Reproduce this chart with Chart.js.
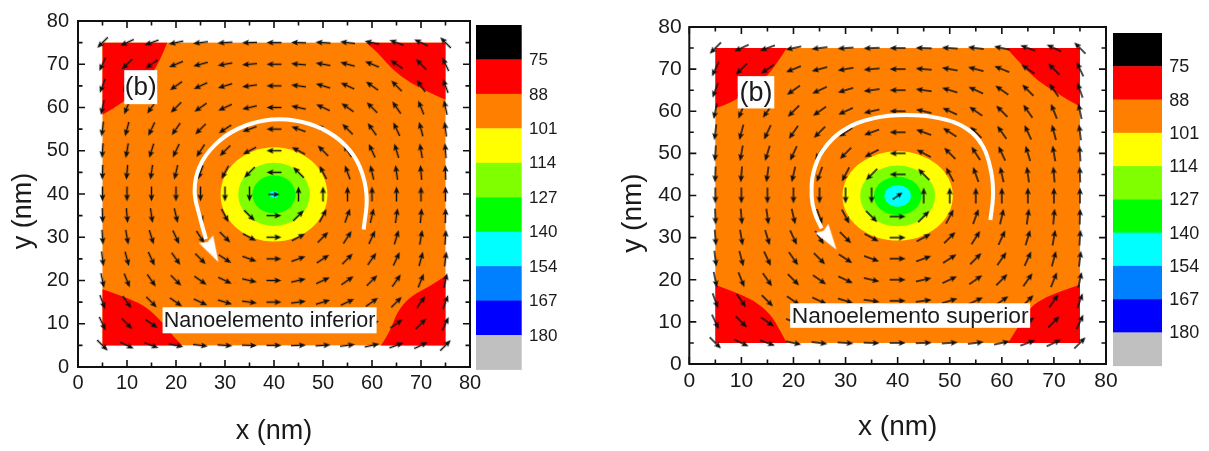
<!DOCTYPE html>
<html><head><meta charset="utf-8">
<script src="https://cdn.jsdelivr.net/npm/chart.js@4.4.1/dist/chart.umd.min.js"></script>
<style>
html,body{margin:0;padding:0;background:#fff;width:1209px;height:451px;overflow:hidden;}
.wrap{position:absolute;top:0;height:451px;}
#w1{left:0;width:604px;} #w2{left:604px;width:605px;}
canvas{display:block;}
</style></head><body>
<div class="wrap" id="w1"><canvas id="c1" width="604" height="451"></canvas></div>
<div class="wrap" id="w2"><canvas id="c2" width="605" height="451"></canvas></div>
<script>
// ---------------- data ----------------
const axisTicks = [0, 10, 20, 30, 40, 50, 60, 70, 80];
const minorTicks = [5, 15, 25, 35, 45, 55, 65, 75];
const colorLevels = ['75', '88', '101', '114', '127', '140', '154', '167', '180'];
const bandColors = ['#000000', '#ff0000', '#ff8000', '#ffff00', '#80ff00', '#00ff00', '#00ffff', '#0080ff', '#0000ff', '#c0c0c0'];
const sampleExtent = [5, 75];
const gridX = [5, 10, 15, 20, 25, 30, 35, 40, 45, 50, 55, 60, 65, 70, 75];
const gridY = [75, 70, 65, 60, 55, 50, 45, 40, 35, 30, 25, 20, 15, 10, 5];
// arrow directions (degrees, counter-clockwise from +x), rows = gridY, cols = gridX
const arrowAngles = [
  [225,205,200,192,187,184,182,180,178,176,173,168,160,155,135],
  [245,225,215,202,195,190,185,180,175,170,165,158,145,135,115],
  [250,235,225,215,205,197,188,180,172,163,155,145,135,125,110],
  [258,248,235,225,215,205,193,180,167,155,145,135,125,112,102],
  [263,255,245,235,225,213,200,180,160,147,135,125,115,105,97],
  [266,260,253,245,237,225,208,180,152,135,123,115,107,100,94],
  [268,265,262,257,250,242,225,180,135,118,110,103,98,95,92],
  [270,270,270,270,270,270,270,null,90,90,90,90,90,90,90],
  [272,275,278,283,290,298,315,0,45,62,70,77,82,85,88],
  [274,280,287,295,303,315,332,0,28,45,57,65,73,80,86],
  [277,285,295,305,315,327,340,0,20,33,45,55,65,75,83],
  [282,292,305,315,325,335,347,0,13,25,35,45,55,68,78],
  [290,305,315,325,335,343,352,0,8,17,25,35,45,55,70],
  [295,315,325,338,345,350,355,0,5,10,15,22,35,45,65],
  [315,335,340,348,353,356,358,0,2,4,7,12,20,25,45]
];
// core level bands: yellow, light green, green, cyan
const coreBands = [3, 4, 5, 6];

// Panel 1: Nanoelemento inferior
const infCenter = [40, 39.9];
const infRadii = [10.9, 7.3, 4.4, 0.85];
const infCenterAngle = 0;
const infCornerTL = [[5,75],[18.2,75],[16.3,69.5],[13,65],[9.3,61.2],[5,58.3]];
const infCornerTR = [[75,75],[58.8,75],[61.1,72.9],[63.9,69],[67.9,65.6],[72.7,62.9],[75,61.8]];
const infCornerBL = [[5,5],[5,18],[10,16.1],[14.1,13.8],[17.5,10],[19.6,6.9],[21.3,5]];
const infCornerBR = [[75,5],[61.8,5],[63.5,7.7],[65.2,13],[68,16.5],[72,18.8],[75,21.1]];
const infArc = [[58.3,31.8],[58.9,39.5],[57.5,46.3],[54.5,51.3],[49.9,55.0],[44.2,57.0],[38.1,57.0],[32.5,55.0],[27.9,51.3],[24.8,46.3],[23.8,40.7],[24.8,35.0],[26.1,29.6]];
const infArcHead = [27.4, 26.9];

// Panel 2: Nanoelemento superior
const supCenter = [40, 39.9];
const supRadii = [10.6, 7.2, 4.55, 2.55];
const supCenterAngle = 35;
const supCornerTL = [[5,75],[18.7,75],[16.1,69.8],[12.5,65.5],[8.5,62.3],[5,60.7]];
const supCornerTR = [[75,75],[60.9,75],[63.5,71.4],[66.7,67.4],[70.5,64.3],[75,61.1]];
const supCornerBL = [[5,5],[5,18.8],[8.4,17.2],[12.3,15.2],[15.5,12],[17.4,8.1],[18.7,5]];
const supCornerBR = [[75,5],[61.2,5],[62.8,8.1],[65.4,13.6],[68.6,16],[72.4,17.7],[75,18.8]];
const supArc = [[57.8,34.2],[58.3,39.7],[58.0,45.3],[56.4,51.6],[53.2,55.9],[48.1,58.3],[41.7,59.1],[35.3,58.3],[29.6,55.5],[25.7,50.8],[23.8,45.3],[23.5,39.7],[24.1,35.8],[25.4,32.2]];
const supArcHead = [26.85, 29.65];

// ---------------- drawing helpers ----------------
const FONT = '"Liberation Sans", Arial, Helvetica, sans-serif';

function makeArrow(len, head, headW, lw, color) {
  const s = Math.ceil(len) + 4;
  const c = document.createElement('canvas'); c.width = s; c.height = s;
  const g = c.getContext('2d');
  const cx = s / 2, cy = s / 2;
  g.strokeStyle = color; g.fillStyle = color; g.lineWidth = lw;
  g.beginPath(); g.moveTo(cx - len / 2, cy); g.lineTo(cx + len / 2 - head * 0.7, cy); g.stroke();
  g.beginPath(); g.moveTo(cx + len / 2, cy);
  g.lineTo(cx + len / 2 - head, cy - headW / 2);
  g.lineTo(cx + len / 2 - head * 0.8, cy);
  g.lineTo(cx + len / 2 - head, cy + headW / 2);
  g.closePath(); g.fill();
  return c;
}
function makeHead(L, W, color) {
  const s = Math.ceil(Math.max(L, W)) + 4;
  const c = document.createElement('canvas'); c.width = s; c.height = s;
  const g = c.getContext('2d');
  const cy = s / 2, x0 = (s - L) / 2;
  g.fillStyle = color;
  g.beginPath(); g.moveTo(x0 + L, cy); g.lineTo(x0, cy - W / 2); g.lineTo(x0 + L * 0.12, cy); g.lineTo(x0, cy + W / 2); g.closePath(); g.fill();
  return c;
}
function cornerPath(ctx, pts, X, Y) {
  const b = pts.slice(1).map(p => [X(p[0]), Y(p[1])]);
  ctx.beginPath();
  ctx.moveTo(X(pts[0][0]), Y(pts[0][1]));
  ctx.lineTo(b[0][0], b[0][1]);
  for (let i = 1; i < b.length - 1; i++) {
    const mx = (b[i][0] + b[i + 1][0]) / 2, my = (b[i][1] + b[i + 1][1]) / 2;
    ctx.quadraticCurveTo(b[i][0], b[i][1], mx, my);
  }
  ctx.lineTo(b[b.length - 1][0], b[b.length - 1][1]);
  ctx.closePath();
}

function buildPanel(id, d, g) {
  const arrowImg = makeArrow(g.arrowLen, 7, 6, 1.5, '#111');
  const centerImg = makeArrow(g.arrowLen * 0.75, 6, 5.5, 1.4, '#111');
  const headImg = makeHead(g.headL, g.headW, '#ffffff');
  const pts = [], rots = [];
  gridY.forEach((y, r) => gridX.forEach((x, c) => {
    const a = arrowAngles[r][c];
    if (a === null) return;
    pts.push({ x, y }); rots.push(-a);
  }));

  const contourPlugin = {
    id: 'contour' + id,
    beforeDatasetsDraw(chart) {
      const { ctx, chartArea: ca } = chart;
      const X = v => chart.scales.x.getPixelForValue(v);
      const Y = v => chart.scales.y.getPixelForValue(v);
      ctx.save();
      ctx.beginPath(); ctx.rect(ca.left, ca.top, ca.width, ca.height); ctx.clip();
      ctx.fillStyle = bandColors[2];
      ctx.fillRect(X(sampleExtent[0]), Y(sampleExtent[1]), X(sampleExtent[1]) - X(sampleExtent[0]), Y(sampleExtent[0]) - Y(sampleExtent[1]));
      ctx.fillStyle = bandColors[1];
      d.corners.forEach(c => { cornerPath(ctx, c, X, Y); ctx.fill(); });
      d.radii.forEach((r, i) => {
        ctx.fillStyle = bandColors[coreBands[i]];
        const cx = X(d.center[0]), cy = Y(d.center[1]);
        ctx.beginPath();
        ctx.ellipse(cx, cy, Math.abs(X(d.center[0] + r) - cx), Math.abs(Y(d.center[1] + r) - cy), 0, 0, Math.PI * 2);
        ctx.fill();
      });
      ctx.restore();
    },
    afterDatasetsDraw(chart) {
      const { ctx, chartArea: ca } = chart;
      const X = v => chart.scales.x.getPixelForValue(v);
      const Y = v => chart.scales.y.getPixelForValue(v);
      ctx.save();
      // frame
      ctx.strokeStyle = '#111'; ctx.lineWidth = 2;
      ctx.strokeRect(ca.left, ca.top, ca.width, ca.height);
      ctx.lineWidth = 1.6;
      const tick = (vals, len) => {
        vals.forEach(v => {
          const px = X(v), py = Y(v);
          ctx.beginPath();
          ctx.moveTo(px, ca.bottom); ctx.lineTo(px, ca.bottom - len);
          ctx.moveTo(px, ca.top); ctx.lineTo(px, ca.top + len);
          ctx.moveTo(ca.left, py); ctx.lineTo(ca.left + len, py);
          ctx.moveTo(ca.right, py); ctx.lineTo(ca.right - len, py);
          ctx.stroke();
        });
      };
      tick(axisTicks, 7);
      tick(minorTicks, 4.5);
      // labels with white boxes
      d.labels.forEach(l => {
        const cx = X(l.at[0]), cy = Y(l.at[1]);
        ctx.fillStyle = '#fff';
        ctx.fillRect(cx - l.w / 2, cy - l.h / 2, l.w, l.h);
        ctx.fillStyle = '#1a1a1a';
        ctx.font = l.size + 'px ' + FONT;
        ctx.textAlign = 'center'; ctx.textBaseline = 'middle';
        ctx.fillText(l.text, cx, cy + 1);
      });
      ctx.restore();
    },
    afterDraw(chart) {
      const { ctx } = chart;
      ctx.save();
      const bh = g.cbH / bandColors.length;
      bandColors.forEach((col, i) => {
        ctx.fillStyle = col;
        ctx.fillRect(g.cbLeft, g.cbTop + i * bh, g.cbW, bh + 0.4);
      });
      ctx.fillStyle = '#1a1a1a';
      ctx.font = g.cbFont + 'px ' + FONT;
      ctx.textAlign = 'left'; ctx.textBaseline = 'middle';
      colorLevels.forEach((t, i) => ctx.fillText(t, g.cbLabelX, g.cbTop + (i + 1) * bh + 1));
      // axis titles
      ctx.font = g.titleFont + 'px ' + FONT;
      ctx.textAlign = 'center'; ctx.textBaseline = 'middle';
      ctx.fillText('x (nm)', g.xTitle[0], g.xTitle[1]);
      ctx.translate(g.yTitle[0], g.yTitle[1]);
      ctx.rotate(-Math.PI / 2);
      ctx.fillText('y (nm)', 0, 0);
      ctx.restore();
    }
  };

  const tickFont = { family: FONT, size: g.tickFont };
  new Chart(document.getElementById(id), {
    type: 'scatter',
    data: {
      datasets: [
        { data: [{ x: d.head[0], y: d.head[1] }], pointStyle: headImg, pointRotation: g.headRot, pointRadius: 6, showLine: false },
        { data: d.arc.map(p => ({ x: p[0], y: p[1] })), showLine: true, borderColor: '#ffffff', borderWidth: 4, tension: 0.4, pointRadius: 0, fill: false, borderCapStyle: 'butt', borderJoinStyle: 'round' },
        { data: [{ x: d.center[0], y: d.center[1] }], pointStyle: centerImg, pointRotation: -d.centerAngle, pointRadius: 6, showLine: false },
        { data: pts, pointStyle: arrowImg, pointRotation: (c) => rots[c.dataIndex] || 0, pointRadius: 6, showLine: false }
      ]
    },
    options: {
      responsive: false, animation: false, events: [],
      layout: { padding: { left: 0, top: g.top, right: g.padRight, bottom: 0 } },
      plugins: { legend: { display: false }, tooltip: { enabled: false } },
      scales: {
        x: {
          type: 'linear', min: 0, max: 80,
          afterBuildTicks: s => { s.ticks = axisTicks.map(v => ({ value: v })); },
          afterFit: s => { s.height = g.xH; },
          grid: { display: false, drawTicks: false }, border: { display: false },
          ticks: { color: '#1a1a1a', font: tickFont, padding: g.xPad, maxRotation: 0, autoSkip: false }
        },
        y: {
          type: 'linear', min: 0, max: 80,
          afterBuildTicks: s => { s.ticks = axisTicks.map(v => ({ value: v })); },
          afterFit: s => { s.width = g.yW; },
          grid: { display: false, drawTicks: false }, border: { display: false },
          ticks: { color: '#1a1a1a', font: tickFont, padding: g.yPad, autoSkip: false }
        }
      }
    },
    plugins: [contourPlugin]
  });
}

buildPanel('c1', {
  center: infCenter, radii: infRadii, centerAngle: infCenterAngle,
  corners: [infCornerTL, infCornerTR, infCornerBL, infCornerBR],
  arc: infArc, head: infArcHead,
  labels: [
    { text: '(b)', at: [12.8, 64.7], w: 33, h: 34, size: 26 },
    { text: 'Nanoelemento inferior', at: [39.1, 10.8], w: 214, h: 26, size: 21.5 }
  ]
}, {
  top: 19, padRight: 134, xH: 84, yW: 78, xPad: 4.5, yPad: 9, tickFont: 20,
  arrowLen: 15, headL: 26, headW: 16, headRot: 61.6,
  cbLeft: 476, cbTop: 25, cbW: 45.7, cbH: 344.5, cbLabelX: 529, cbFont: 17,
  titleFont: 27, xTitle: [274, 432], yTitle: [24, 211]
});

buildPanel('c2', {
  center: supCenter, radii: supRadii, centerAngle: supCenterAngle,
  corners: [supCornerTL, supCornerTR, supCornerBL, supCornerBR],
  arc: supArc, head: supArcHead,
  labels: [
    { text: '(b)', at: [12.8, 64.5], w: 36.6, h: 32.3, size: 27 },
    { text: 'Nanoelemento superior', at: [42.4, 11.5], w: 240, h: 24.5, size: 22.8 }
  ]
}, {
  top: 27, padRight: 103, xH: 87, yW: 85.3, xPad: 5, yPad: 7.6, tickFont: 21,
  arrowLen: 16, headL: 26, headW: 16, headRot: 55.3,
  cbLeft: 509, cbTop: 33, cbW: 49, cbH: 332.7, cbLabelX: 565.3, cbFont: 18,
  titleFont: 28, xTitle: [293.7, 427], yTitle: [29, 213]
});
</script>
</body></html>
